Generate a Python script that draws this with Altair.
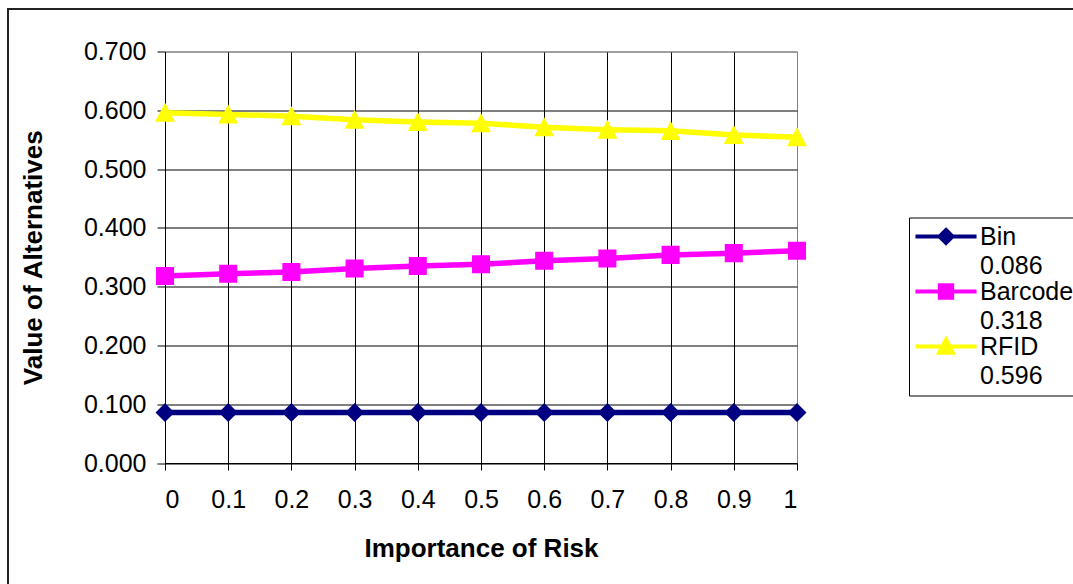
import altair as alt
import pandas as pd

# ---- data ----
importance = [0.0, 0.1, 0.2, 0.3, 0.4, 0.5, 0.6, 0.7, 0.8, 0.9, 1.0]
series_names = ["Bin", "Barcode", "RFID"]
bin_values = [0.086, 0.086, 0.086, 0.086, 0.086, 0.086, 0.086, 0.086, 0.086, 0.086, 0.086]
barcode_values = [0.318, 0.322, 0.325, 0.331, 0.335, 0.338, 0.344, 0.348, 0.354, 0.357, 0.361]
rfid_values = [0.596, 0.593, 0.590, 0.584, 0.580, 0.578, 0.571, 0.567, 0.565, 0.558, 0.554]
legend_values = [0.086, 0.318, 0.596]
x_ticks = [0, 0.1, 0.2, 0.3, 0.4, 0.5, 0.6, 0.7, 0.8, 0.9, 1]
y_ticks = [0, 0.1, 0.2, 0.3, 0.4, 0.5, 0.6, 0.7]

# ---- styles ----
series_colors = ["#000080", "#FF00FF", "#FFFF00"]
L = 4.7    # half length of the legend line (units)
def with_line(p):
    return p + f" M-{L},0H{L}"
shape_paths = [
    with_line("M0,-1L1,0L0,1L-1,0Z"),
    with_line("M-0.95,-0.95H0.95V0.95H-0.95Z"),
    with_line("M0,-1.05L1.05,0.95H-1.05Z"),
]
CHART_SIZE = 361
LEG_SIZE = 169

labels = [f"{n}|{v:.3f}" for n, v in zip(series_names, legend_values)]
rows = []
for lab, vals in zip(labels, [bin_values, barcode_values, rfid_values]):
    for xv, yv in zip(importance, vals):
        rows.append({"x": xv, "value": yv, "series": lab})
df = pd.DataFrame(rows)

legend = alt.Legend(
    orient="none", legendX=744, legendY=166, direction="vertical", title=None,
    labelExpr="split(datum.label, '|')", labelFont="Liberation Sans", labelFontSize=25,
    labelColor="black", labelBaseline="middle", labelLimit=400,
    symbolSize=LEG_SIZE, symbolStrokeWidth=4, symbolOffset=18, labelOffset=21.5,
    symbolOpacity=1, rowPadding=-21.5, padding=6.5, strokeColor="black", fillColor="white",
)

grid_x = alt.condition("datum.value >= 1", alt.value("#808080"), alt.value("black"))
grid_y = alt.condition("datum.value >= 0.7", alt.value("#808080"), alt.value("black"))

xenc = alt.X("x:Q", scale=alt.Scale(domain=[0, 1], nice=False),
             axis=alt.Axis(values=x_ticks, format="~g", title="Importance of Risk",
                           tickSize=7, labelPadding=17, titlePadding=23, gridColor=grid_x))
yenc = alt.Y("value:Q", scale=alt.Scale(domain=[0, 0.7], nice=False, zero=True),
             axis=alt.Axis(values=y_ticks, format=".3f", title="Value of Alternatives",
                           tickSize=8, labelPadding=11, titlePadding=37, gridColor=grid_y))

base = alt.Chart(df)
lines = base.mark_line(strokeWidth=5.5).encode(
    x=xenc, y=yenc,
    stroke=alt.Stroke("series:N", scale=alt.Scale(domain=labels, range=series_colors), legend=legend),
)
points = base.mark_point(filled=True, size=CHART_SIZE, opacity=1).encode(
    x=xenc, y=yenc,
    fill=alt.Fill("series:N", scale=alt.Scale(domain=labels, range=series_colors), legend=legend),
    shape=alt.Shape("series:N", scale=alt.Scale(domain=labels, range=shape_paths), legend=legend),
)

frame = alt.Chart(pd.DataFrame({"f": [0]})).mark_rect(
    fillOpacity=0, stroke="#222222", strokeWidth=2
).encode(
    x=alt.value(-157), x2=alt.value(940), y=alt.value(-42.5), y2=alt.value(560)
)

chart = alt.layer(frame, lines, points).properties(
    width=632, height=411.5,
    autosize=alt.AutoSizeParams(type="none"),
    padding={"left": 165, "top": 51.5, "right": 276, "bottom": 121},
).configure(
    background="white",
    style={"guide-label": {"lineHeight": 29}},
).configure_view(
    stroke="#808080", strokeWidth=1
).configure_axis(
    domainColor="black", tickColor="black", gridOpacity=1, gridWidth=1,
    labelFont="Liberation Sans", labelFontSize=25, labelColor="black",
    titleFont="Liberation Sans", titleFontSize=26, titleFontWeight="bold", titleColor="black",
    grid=True,
).configure_legend(
    strokeWidth=1,
)

chart.save("out.html", embed_options={"renderer": "svg", "actions": False})
